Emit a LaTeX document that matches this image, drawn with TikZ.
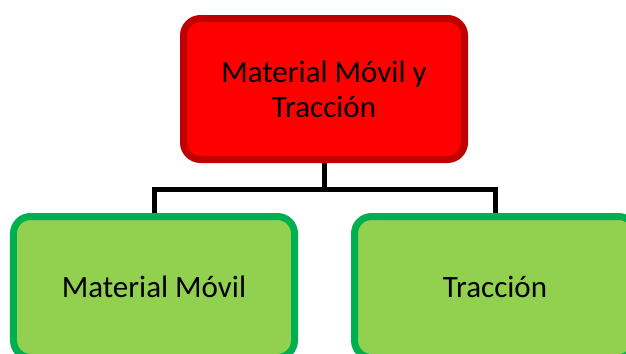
\documentclass[tikz,border=0pt]{standalone}
\usepackage{fontspec}
\setmainfont{Carlito}
\usetikzlibrary{backgrounds}
\definecolor{boxred}{HTML}{FF0000}
\definecolor{edgered}{HTML}{C00000}
\definecolor{boxgreen}{HTML}{92D050}
\definecolor{edgegreen}{HTML}{00B050}
\tikzset{
  chartbox/.style={rectangle,rounded corners=17bp,line width=7bp,
    minimum width=281bp,minimum height=141bp,inner sep=0pt,align=center,
    font=\fontsize{31bp}{35bp}\selectfont},
  redbox/.style={chartbox,fill=boxred,draw=edgered},
  greenbox/.style={chartbox,fill=boxgreen,draw=edgegreen},
  linkline/.style={line width=5bp,black}
}
\begin{document}
\begin{tikzpicture}[x=1bp,y=-1bp]
\useasboundingbox (0,0) rectangle (626,353);
\node[redbox] (mmt) at (324,89) {Material Móvil y\\Tracción};
\node[greenbox] (mm) at (154,287) {Material Móvil};
\node[greenbox] (trac) at (495,287) {Tracción};
\coordinate (split) at (324,189);
\begin{scope}[on background layer]
\draw[linkline] (mmt.south) -- (split);
\draw[linkline] (mm.north) |- (split) -| (trac.north);
\end{scope}
\end{tikzpicture}
\end{document}
